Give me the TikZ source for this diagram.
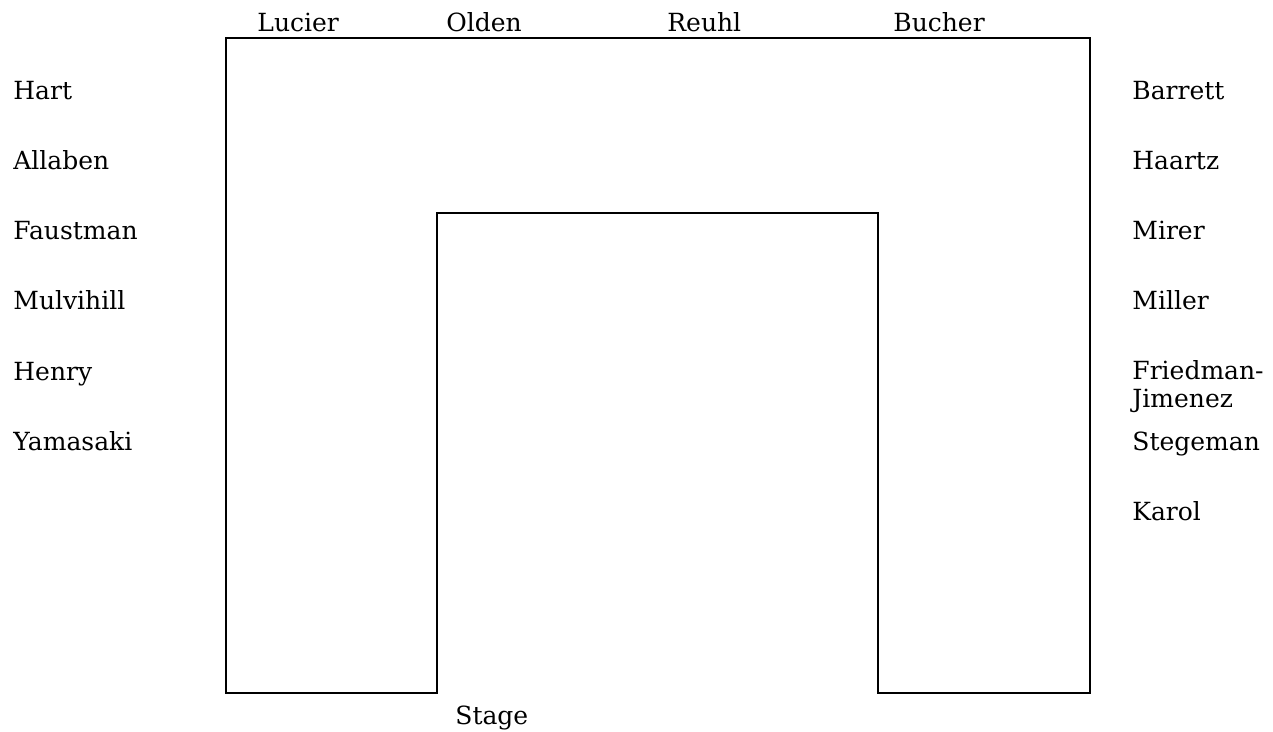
\documentclass[tikz,border=0pt]{standalone}
\usepackage{fontspec}
\setmainfont{DejaVu Serif}
\usepackage{tikz}
\usetikzlibrary{positioning}
\tikzstyle{seat} = [anchor=base west, inner sep=0pt, font=\fontsize{12.5}{14}\selectfont, align=left]
\tikzstyle{wall} = [draw, line width=1pt]

\begin{document}
\begin{tikzpicture}[x=0.5pt, y=-0.5pt]
        \useasboundingbox (0,0) rectangle (1273,732);
        % Tische
        \path [wall] (226,38) -- (1090,38) -- (1090,693) -- (878,693) -- (878,213)
            -- (437,213) -- (437,693) -- (226,693) -- cycle;

        % oben
        \node [seat] (lucier) at (257,32) {Lucier};
        \node [seat] (olden) at (446,32) {Olden};
        \node [seat] (reuhl) at (667,32) {Reuhl};
        \node [seat] (bucher) at (893,32) {Bucher};

        % links
        \node [seat] (hart) at (13,100) {Hart};
        \node [seat] (allaben) at (13,170) {Allaben};
        \node [seat] (faustman) at (13,240) {Faustman};
        \node [seat] (mulvihill) at (13,310) {Mulvihill};
        \node [seat] (henry) at (13,380) {Henry};
        \node [seat] (yamasaki) at (13,450) {Yamasaki};

        % rechts
        \node [seat] (barrett) at (1132,100) {Barrett};
        \node [seat] (haartz) at (1132,170) {Haartz};
        \node [seat] (mirer) at (1132,240) {Mirer};
        \node [seat] (miller) at (1132,310) {Miller};
        \node [seat] (friedman) at (1132,408) {Friedman-\\Jimenez};
        \node [seat] (stegeman) at (1132,450) {Stegeman};
        \node [seat] (karol) at (1132,520) {Karol};

        % Bühne
        \node [seat] (stage) at (455,724) {Stage};
    \end{tikzpicture}
\end{document}
